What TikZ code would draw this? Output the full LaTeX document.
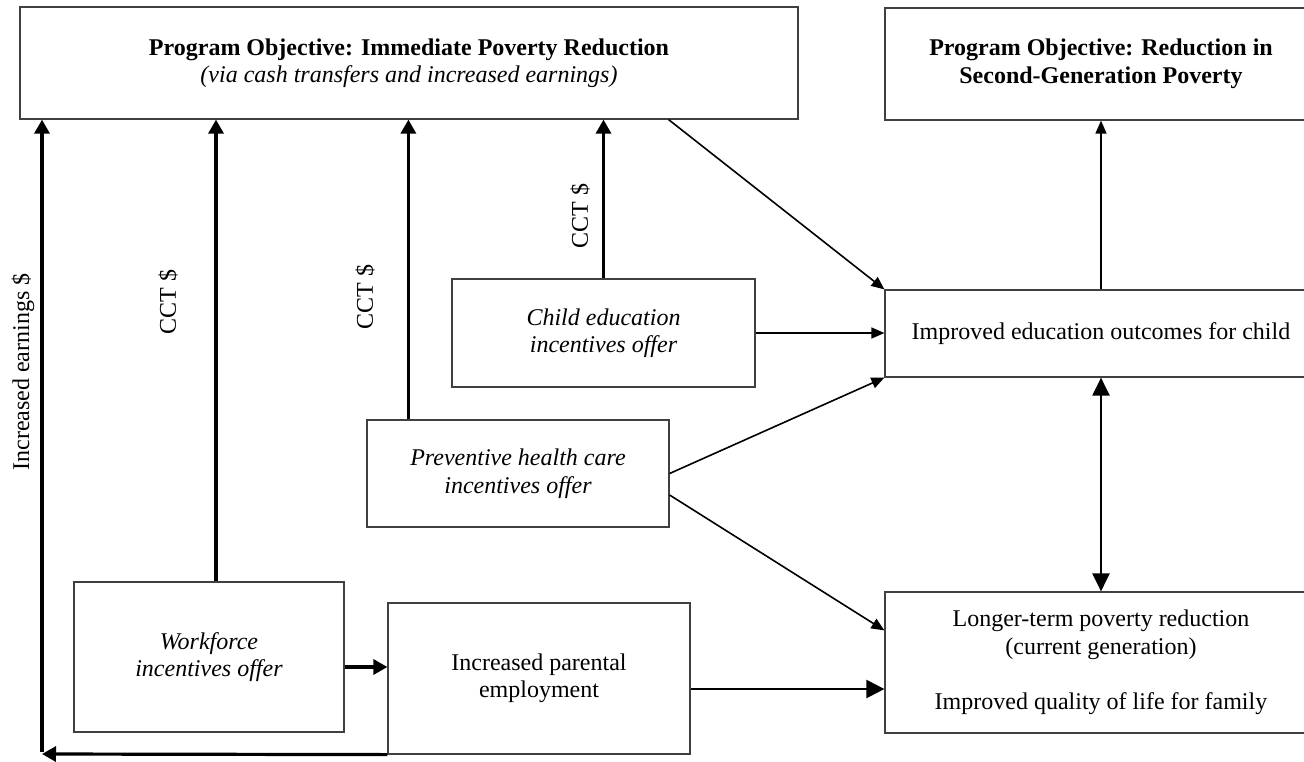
\documentclass[tikz,border=0pt]{standalone}
\usepackage{fontspec}
\setmainfont{Liberation Serif}
\usetikzlibrary{arrows.meta}
\begin{document}
\begin{tikzpicture}[x=1pt,y=-1pt,
  box/.style={draw=black!75, line width=1.2pt, rectangle, inner sep=0pt, align=center,
              font=\fontsize{24}{27.5}\selectfont},
  lbl/.style={inner sep=0pt, font=\fontsize{24}{27.5}\selectfont, rotate=90},
  thk/.style={line width=3.2pt, -{Triangle[length=14pt,width=15pt]}},
  thn/.style={line width=1.6pt, -{Triangle[length=13pt,width=11pt]}},
  med/.style={line width=2.2pt, -{Triangle[length=18pt,width=18pt]}},
  dbl/.style={line width=2.2pt, {Triangle[length=18pt,width=17pt]}-{Triangle[length=18pt,width=17pt]}}
]
\useasboundingbox (0,0) rectangle (1304,761);
\clip (0,0) rectangle (1304,761);

% boxes
\node[box, minimum width=778pt, minimum height=112pt] (top) at (409,63)
  {\textbf{Program Objective: Immediate Poverty Reduction}\\\textit{(via cash transfers and increased earnings)}};
\node[box, minimum width=432pt, minimum height=112pt] (topr) at (1101,64)
  {\textbf{Program Objective: Reduction in}\\\textbf{Second-Generation Poverty}};
\node[box, minimum width=303pt, minimum height=108pt] (child) at (603.5,333)
  {\textit{Child education}\\\textit{incentives offer}};
\node[box, minimum width=302pt, minimum height=107pt] (prev) at (518,473.5)
  {\textit{Preventive health care}\\\textit{incentives offer}};
\node[box, minimum width=270pt, minimum height=150pt] (wf) at (209,657)
  {\textit{Workforce}\\\textit{incentives offer}};
\node[box, minimum width=302pt, minimum height=151pt] (par) at (539,678.5)
  {Increased parental\\employment};
\node[box, minimum width=432pt, minimum height=87pt] (impr) at (1101,333.5)
  {Improved education outcomes for child};
\node[box, minimum width=432pt, minimum height=141pt] (lt) at (1101,662.5)
  {Longer-term poverty reduction\\(current generation)\\[27.5pt]Improved quality of life for family};

% labels
\node[lbl] (lE) at (23,372) {Increased earnings \$};
\node[lbl] (l1) at (168,302) {CCT \$};
\node[lbl] (l2) at (365,297) {CCT \$};
\node[lbl] (l3) at (580,216) {CCT \$};

% increased earnings loop
\coordinate (ec) at (42,754);
\draw[thk] (par.south west) -- (ec);
\draw[thk] ([yshift=1.6pt]ec) -- (ec |- top.south);

% CCT arrows
\draw[thk] ([xshift=7pt]wf.north) -- ([xshift=7pt]wf.north |- top.south);
\draw[thk] ([xshift=42pt]prev.north west) -- ([xshift=42pt]prev.north west |- top.south);
\draw[thk] (child.north) -- (child.north |- top.south);

% to improved education
\draw[thn] ([xshift=-130pt]top.south east) -- (impr.north west);
\draw[thn] (child.east) -- (child.east -| impr.west);
\draw[thn] (prev.east) -- (impr.south west);
\draw[thn] ([yshift=-21.5pt]prev.east) -- ([yshift=-39pt]lt.north west);

% workforce / parental
\draw[thk] ([yshift=-10pt]wf.east) -- ([yshift=-10pt]wf.east -| par.west);
\draw[med] ([yshift=-10.5pt]par.east) -- ([yshift=-10.5pt]par.east -| lt.west);

% right column
\draw[thn] (impr.north) -- (topr.south);
\draw[dbl] (impr.south) -- (lt.north);
\end{tikzpicture}
\end{document}
